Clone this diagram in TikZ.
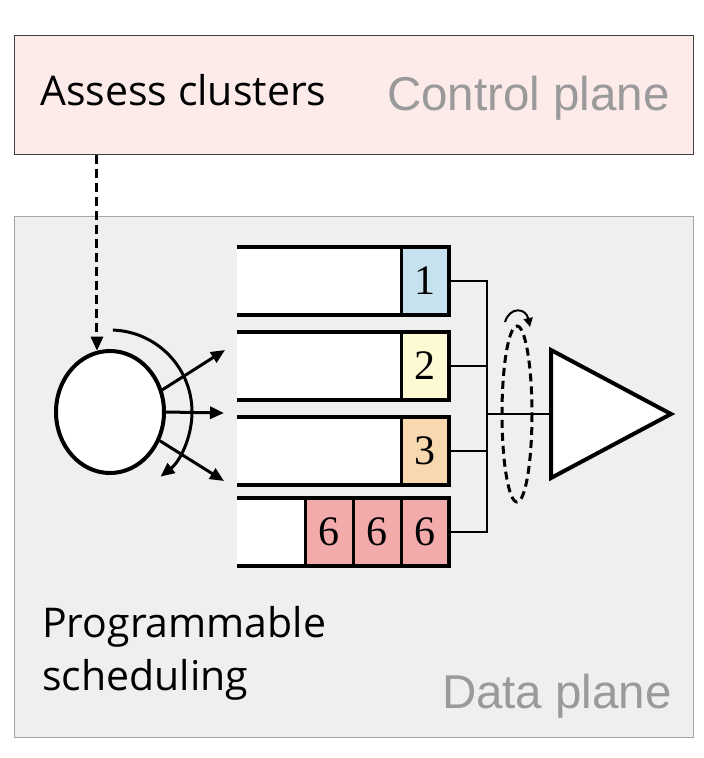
\documentclass[tikz,border=0pt]{standalone}
\usepackage{fontspec}
\setmainfont{Liberation Sans}
\newfontfamily\labfont{Open Sans}
\newfontfamily\numfont{Liberation Serif}
\usetikzlibrary{arrows.meta,shapes.geometric,calc}
\definecolor{ctrlpink}{HTML}{FDEBEA}
\definecolor{dpgray}{HTML}{EFEFEF}
\definecolor{textgray}{HTML}{9A9A9A}
\definecolor{qblue}{HTML}{C6E2EE}
\definecolor{qyellow}{HTML}{FDF9D3}
\definecolor{qorange}{HTML}{F8D8AE}
\definecolor{qpink}{HTML}{F2AAAA}
\begin{document}
\begin{tikzpicture}[x=1pt,y=-1pt,
  plane/.style={rectangle,inner sep=0pt,anchor=north west},
  planetitle/.style={text=textgray,font=\fontsize{47.5}{50}\selectfont,inner sep=0pt},
  labtext/.style={font=\labfont\fontsize{41}{53}\selectfont,inner sep=0pt,align=left},
  queue/.style={rectangle,inner sep=0pt,fill=white,anchor=north west,minimum width=212pt,minimum height=68pt},
  qline/.style={line width=4pt,line join=miter},
  pkt/.style={rectangle,draw,line width=3pt,inner sep=0pt,outer sep=0pt,minimum width=48pt,minimum height=68pt,font=\numfont\fontsize{42}{42}\selectfont},
  conn/.style={line width=2pt},
  arrtip/.style={-{Triangle[length=14pt,width=12pt]}},
  outarrow/.style={line width=3pt,arrtip}
]
\useasboundingbox (0,0) rectangle (704,758);
% planes
\node[plane,draw=black!75,line width=1.2pt,fill=ctrlpink,minimum width=679pt,minimum height=119pt] (ctrl) at (14,35) {};
\node[plane,draw=black!35,line width=1.2pt,fill=dpgray,minimum width=679pt,minimum height=521pt] (data) at (14,216) {};
\node[planetitle,anchor=base east] (ctitle) at (670,110) {Control plane};
\node[planetitle,anchor=base east] (dtitle) at (672,708) {Data plane};
\node[labtext,anchor=base west] (assess) at (40,105) {Assess clusters};
\node[labtext,anchor=base west] (prog) at (42,690) {Programmable\\scheduling};
% queues
\node[queue] (q1) at (237,247) {};
\node[queue] (q2) at (237,332) {};
\node[queue] (q3) at (237,417) {};
\node[queue] (q4) at (237,498) {};
\node[pkt,fill=qblue,anchor=north east] (p1) at (q1.north east) {1};
\node[pkt,fill=qyellow,anchor=north east] (p2) at (q2.north east) {2};
\node[pkt,fill=qorange,anchor=north east] (p3) at (q3.north east) {3};
\node[pkt,fill=qpink,anchor=north east] (p4c) at (q4.north east) {6};
\node[pkt,fill=qpink,anchor=north east] (p4b) at (p4c.north west) {6};
\node[pkt,fill=qpink,anchor=north east] (p4a) at (p4b.north west) {6};
\foreach \q in {q1,q2,q3,q4}{
  \draw[qline] (\q.north west) -- (\q.north east) -- (\q.south east) -- (\q.south west);
}
% scheduler
\node[ellipse,draw,line width=4pt,fill=white,minimum width=108pt,minimum height=122pt,inner sep=0pt] (sched) at (110,412) {};
\draw[line width=3pt,arrtip] ($(sched.center)+(-88:82)$) arc[start angle=-88,end angle=52,radius=82];
\coordinate (o1) at (225,350);
\coordinate (o2) at (224,413);
\coordinate (o3) at (224,481);
\draw[outarrow] (sched.23) -- (o1);
\draw[outarrow] (sched.0) -- (o2);
\draw[outarrow] (sched.-30) -- (o3);
\draw[line width=3pt,dash pattern=on 9pt off 5pt,arrtip] (ctrl.south -| sched.102) -- (sched.102);
% bus
\coordinate (bus) at (487,0);
\draw[conn] (q1.east) -- (q1.east -| bus) -- (q4.east -| bus) -- (q4.east);
\draw[conn] (q2.east) -- (q2.east -| bus);
\draw[conn] (q3.east) -- (q3.east -| bus);
% output link
\coordinate (tin) at (551,414);
\draw[line width=4pt,line join=miter,fill=white] (551,350) coordinate (ttop) -- (671,414) coordinate (tapex) -- (551,478) coordinate (tbot) -- cycle;
\draw[conn] (tin -| bus) -- (tin);
% round-robin
\draw[line width=3pt,dash pattern=on 8pt off 5pt] (517,414) ellipse[x radius=15,y radius=88];
\draw[line width=2pt,-{Triangle[length=9pt,width=9pt]}] (505,322) .. controls (510,306) and (526,308) .. (530,327);
\end{tikzpicture}
\end{document}
